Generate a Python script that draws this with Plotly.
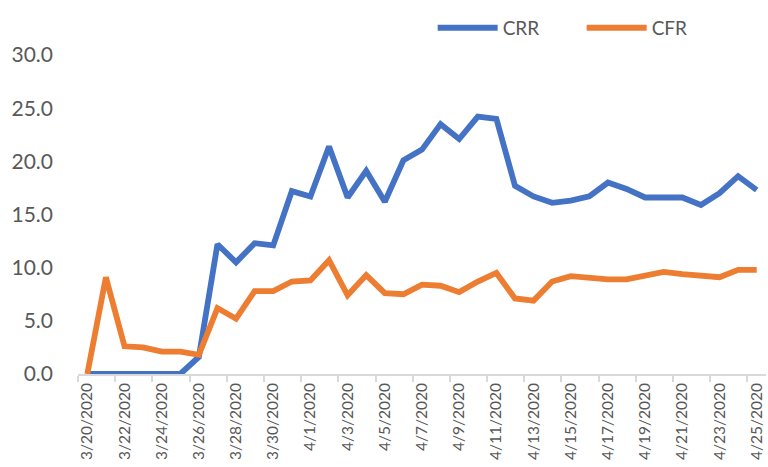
import plotly.graph_objects as go

dates = ["3/20/2020", "3/21/2020", "3/22/2020", "3/23/2020", "3/24/2020", "3/25/2020",
         "3/26/2020", "3/27/2020", "3/28/2020", "3/29/2020", "3/30/2020", "3/31/2020",
         "4/1/2020", "4/2/2020", "4/3/2020", "4/4/2020", "4/5/2020", "4/6/2020",
         "4/7/2020", "4/8/2020", "4/9/2020", "4/10/2020", "4/11/2020", "4/12/2020",
         "4/13/2020", "4/14/2020", "4/15/2020", "4/16/2020", "4/17/2020", "4/18/2020",
         "4/19/2020", "4/20/2020", "4/21/2020", "4/22/2020", "4/23/2020", "4/24/2020",
         "4/25/2020"]

crr = [0, 0, 0, 0, 0, 0, 1.6, 12.2, 10.5, 12.3, 12.1, 17.2,
       16.7, 21.4, 16.6, 19.1, 16.2, 20.1, 21.1, 23.5, 22.1, 24.2,
       24.0, 17.7, 16.7, 16.1, 16.3, 16.7, 18.0, 17.4, 16.6, 16.6,
       16.6, 15.9, 17.0, 18.6, 17.3]

cfr = [0, 9.1, 2.6, 2.5, 2.1, 2.1, 1.8, 6.2, 5.2, 7.8, 7.8, 8.7,
       8.8, 10.7, 7.4, 9.3, 7.6, 7.5, 8.4, 8.3, 7.7, 8.7,
       9.5, 7.1, 6.9, 8.7, 9.2, 9.0, 8.9, 8.9, 9.3, 9.6,
       9.4, 9.2, 9.1, 9.8, 9.8]

y_ticks = [0, 5, 10, 15, 20, 25, 30]

idx = list(range(len(dates)))
tick_idx = idx[::2]
tick_text = dates[::2]

fig = go.Figure()
fig.add_trace(go.Scatter(x=idx, y=crr, name="CRR", mode="lines",
                         line=dict(color="#4472C4", width=5.8)))
fig.add_trace(go.Scatter(x=idx, y=cfr, name="CFR", mode="lines",
                         line=dict(color="#ED7D31", width=5.8)))

fig.update_layout(
    width=768, height=467,
    margin=dict(l=78, r=2, t=55, b=93, autoexpand=False),
    paper_bgcolor="white", plot_bgcolor="white",
    font=dict(family="Lato", color="#595959"),
    showlegend=True,
    legend=dict(orientation="h", x=0.5155, xanchor="left", y=1.085, yanchor="middle",
                font=dict(size=19, color="#595959"), itemwidth=60,
                entrywidth=74, bgcolor="rgba(0,0,0,0)"),
    xaxis=dict(range=[-0.5, len(dates) - 0.5], tickmode="array",
               tickvals=tick_idx, ticktext=tick_text, tickangle=-90,
               ticks="", showgrid=False, zeroline=False, automargin=False,
               showline=True, linecolor="#D9D9D9", linewidth=1.5,
               tickfont=dict(size=15.5, color="#595959"), ticklabelstandoff=1,
               minor=dict(tickmode="linear", tick0=-0.5, dtick=2, ticks="outside",
                          ticklen=6, tickcolor="#D9D9D9", tickwidth=1.5, showgrid=False)),
    yaxis=dict(range=[0, 30], tickmode="array", tickvals=y_ticks, automargin=False,
               tickformat=".1f", showgrid=False, zeroline=False, showline=False,
               ticks="", tickfont=dict(size=21, color="#595959"), ticklabelstandoff=24),
)

fig.write_html("out.html", config={"displayModeBar": False},
               post_script="document.body.style.margin='0';document.body.style.overflow='hidden';")
